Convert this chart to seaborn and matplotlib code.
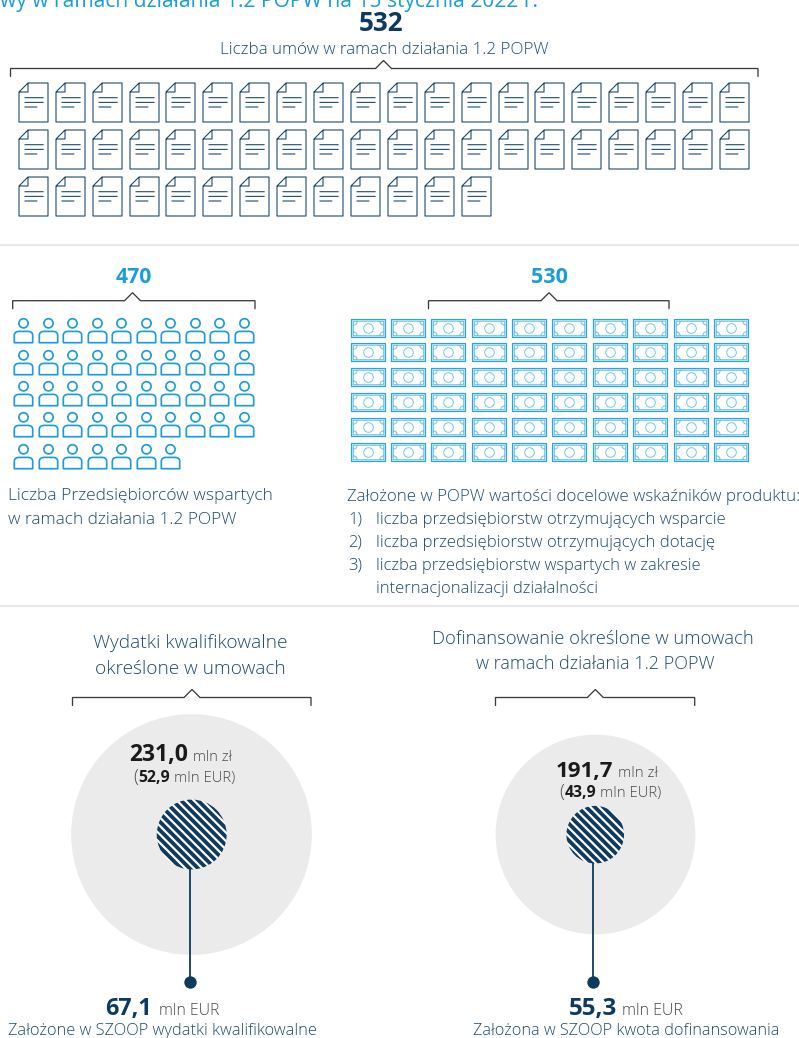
import matplotlib
matplotlib.use("Agg")
import matplotlib.pyplot as plt
import numpy as np
import pandas as pd
import seaborn as sns
from matplotlib.path import Path
from matplotlib.patches import Circle
from matplotlib.markers import MarkerStyle

# ---- data ----
CONTRACTS_TOTAL = 532
ENTERPRISES_TOTAL = 470
TARGET_TOTAL = 530
contract_rows = [20, 20, 13]
enterprise_rows = [10, 10, 10, 10, 7]
target_rows = [10, 10, 10, 10, 10, 10]
eligible_pln = 231.0
eligible_eur = "52,9"
eligible_plan = 67.1
funding_pln = 191.7
funding_eur = "43,9"
funding_plan = 55.3

NAVY = "#0e3a5f"
TXT = "#1f4a6c"
BLUE = "#1c9cd9"
GRAY = "#4a4a4a"
FONT = "Open Sans"

sns.set_theme(style="white")
plt.rcParams["font.family"] = [FONT, "DejaVu Sans"]

W, H = 799, 1038
fig = plt.figure(figsize=(W / 100, H / 100), dpi=100)
ax = fig.add_axes([0, 0, 1, 1])
ax.set_xlim(0, W)
ax.set_ylim(H, 0)
ax.axis("off")
PT = 0.72  # points per pixel


def grid(rows, x0, y0, dx, dy):
    recs = [(x0 + dx * c, y0 + dy * r) for r, n in enumerate(rows) for c in range(n)]
    return pd.DataFrame(recs, columns=["x", "y"])


def icons(df, path, lw, edge, face="white", z=3):
    R = np.abs(path.vertices).max()
    sns.scatterplot(data=df, x="x", y="y", ax=ax, marker=MarkerStyle(path),
                    s=(2 * R * PT) ** 2, color=face, edgecolor=edge,
                    linewidth=lw * PT, legend=False, zorder=z)


def poly(*pts, close=False):
    v = list(pts)
    c = [Path.MOVETO] + [Path.LINETO] * (len(v) - 1)
    if close:
        v.append(v[0])
        c.append(Path.CLOSEPOLY)
    return Path(v, c)


def arc(a, b, ctrl):
    return Path([a, ctrl, b], [Path.MOVETO, Path.CURVE3, Path.CURVE3])


def bracket(x0, x1, apex, y, tick=8, peak=8):
    ax.plot([x0, x0, apex - peak, apex, apex + peak, x1, x1],
            [y + tick, y, y, y - peak, y, y, y + tick],
            color="#3a3a3a", lw=1.3 * PT, solid_joinstyle="miter", zorder=2)


fig.canvas.draw()
rend = fig.canvas.get_renderer()


def put(x0, x1, base, s, color=TXT, weight="light"):
    t = ax.text(x0, base, s, color=color, fontsize=10, fontweight=weight,
                ha="left", va="baseline", zorder=6)
    w = t.get_window_extent(rend).width
    t.set_fontsize(10 * (x1 - x0) / w)
    return t


def num(x0, x1, base, s, color):
    return put(x0, x1, base, s, color, "bold")


# ---- document icon ----
hw, hh = 14.5, 19.5
def P(x, y):
    return (x - hw, hh - y)
doc = Path.make_compound_path(
    poly(P(0, 9), P(9, 0), P(29, 0), P(29, 39), P(0, 39), close=True),
    poly(P(9, 0), P(9, 9), P(0, 9)),
    poly(P(5.5, 14.7), P(24.6, 14.7)),
    poly(P(5.5, 19.4), P(24.6, 19.4)),
    poly(P(5.5, 24), P(18.3, 24)),
)
icons(grid(contract_rows, 32.8, 101.5, 36.9, 47.4), doc, 1.1, "#1d4a70")

# ---- person icon ----
body = Path([(-9.2, -12.2), (-9.2, -5), (-9.2, -1.6), (-6.5, -0.9), (-4.5, -0.9),
             (4.5, -0.9), (6.5, -0.9), (9.2, -1.6), (9.2, -5), (9.2, -12.2), (-9.2, -12.2)],
            [Path.MOVETO, Path.LINETO, Path.CURVE4, Path.CURVE4, Path.CURVE4,
             Path.LINETO, Path.CURVE4, Path.CURVE4, Path.CURVE4, Path.LINETO, Path.CLOSEPOLY])
head = Path.circle((0, 7.2), 4.6)
person = Path.make_compound_path(head, body)
icons(grid(enterprise_rows, 23, 330.2, 24.55, 31.4), person, 1.7, BLUE)

# ---- banknote icon ----
def rect(a, b):
    return poly((-a, -b), (a, -b), (a, b), (-a, b), close=True)
outer = rect(17.4, 9.3)
inner = Path.make_compound_path(
    rect(15.2, 7.2),
    Path.circle((0, 0), 4.8),
    arc((-15.2, 3.4), (-11.4, 7.2), (-11.4, 3.4)),
    arc((15.2, 3.4), (11.4, 7.2), (11.4, 3.4)),
    arc((-15.2, -3.4), (-11.4, -7.2), (-11.4, -3.4)),
    arc((15.2, -3.4), (11.4, -7.2), (11.4, -3.4)),
)
notes = grid(target_rows, 367.7, 327.6, 40.35, 24.8)
icons(notes, outer, 1.2, "#2aa5de", "#cfeaf8", z=3)
icons(notes, inner, 0.9, "#69c1ea", "white", z=4)

# ---- brackets and dividers ----
bracket(10.5, 758, 383.5, 68.5)
bracket(12.7, 255, 132.5, 300.7)
bracket(428.5, 669, 549, 300.7)
bracket(72.5, 311, 192, 697.5)
bracket(495.5, 694.7, 595.3, 697.5)
for yy in (245, 606):
    ax.axhline(yy, color="#e9e9e9", lw=1.6, zorder=1)

# ---- bubbles: radius proportional to value ----
PX_PER_UNIT = 0.521
big = pd.DataFrame({"x": [191.5, 595.5], "y": [834.5, 834.5], "v": [eligible_pln, funding_pln]})
big["s"] = (2 * big["v"] * PX_PER_UNIT * PT) ** 2
sns.scatterplot(data=big, x="x", y="y", ax=ax, s=big["s"].to_numpy(), color="#ebebeb",
                linewidth=0, legend=False, zorder=1)
small = pd.DataFrame({"x": [191.7, 595.2], "y": [834.5, 834.7], "v": [eligible_plan, funding_plan]})
stem_x = [190, 593.3]
stem_end = 981.5
for (_, row), sx in zip(small.iterrows(), stem_x):
    r = row["v"] * PX_PER_UNIT
    disc = Circle((row["x"], row["y"]), r, fc="white", ec="none", zorder=3)
    ax.add_patch(disc)
    period = 6.0
    for off in np.arange(-2 * r, 2 * r, period * np.sqrt(2)):
        ln, = ax.plot([row["x"] - 2 * r + off, row["x"] + 2 * r + off],
                      [row["y"] - 2 * r, row["y"] + 2 * r],
                      color=NAVY, lw=3.8 * PT, zorder=4, solid_capstyle="butt")
        ln.set_clip_path(disc)
    ax.plot([sx, sx], [row["y"] + r - 1, stem_end], color=NAVY, lw=1.8 * PT, zorder=5)
dots = pd.DataFrame({"x": stem_x, "y": [stem_end, stem_end]})
sns.scatterplot(data=dots, x="x", y="y", ax=ax, s=(12.4 * PT) ** 2, color=NAVY,
                linewidth=0, legend=False, zorder=6)

# ---- text ----
put(0, 539, 6.5, "wy w ramach działania 1.2 POPW na 15 stycznia 2022 r.", BLUE, "normal")
num(358.5, 403, 31, str(CONTRACTS_TOTAL), NAVY)
put(219.5, 550, 54, "Liczba umów w ramach działania 1.2 POPW")
num(115.5, 152, 282.7, str(ENTERPRISES_TOTAL), BLUE)
num(530.5, 567.5, 282.7, str(TARGET_TOTAL), BLUE)
put(8, 273, 500, "Liczba Przedsiębiorców wspartych")
put(8, 237, 524, "w ramach działania 1.2 POPW")
put(347, 798, 501, "Założone w POPW wartości docelowe wskaźników produktu:")
put(348, 362, 524, "1)")
put(376, 723, 524, "liczba przedsiębiorstw otrzymujących wsparcie")
put(348, 362, 546.7, "2)")
put(376, 712, 546.7, "liczba przedsiębiorstw otrzymujących dotację")
put(348, 362, 570, "3)")
put(376, 700, 570, "liczba przedsiębiorstw wspartych w zakresie")
put(376, 597, 592.7, "internacjonalizacji działalności")
put(93, 287, 648, "Wydatki kwalifikowalne")
put(95, 285, 674, "określone w umowach")
put(432, 753, 644, "Dofinansowanie określone w umowach")
put(476, 715, 669, "w ramach działania 1.2 POPW")

BLK = "#1a1a1a"
num(129, 187.7, 760.7, f"{eligible_pln:.1f}".replace(".", ","), BLK)
put(192.7, 232, 760.7, "mln zł", GRAY)
put(133.7, 138.5, 782, "(", GRAY)
num(138.5, 170, 782, eligible_eur, BLK)
put(174, 235, 782, "mln EUR)", GRAY)
num(105, 151.7, 1015, f"{eligible_plan:.1f}".replace(".", ","), NAVY)
put(158.7, 219, 1015, "mln EUR", GRAY)
put(8, 316, 1035, "Założone w SZOOP wydatki kwalifikowalne")

num(555.7, 613, 776.7, f"{funding_pln:.1f}".replace(".", ","), BLK)
put(618, 658, 776.7, "mln zł", GRAY)
put(559.7, 564.5, 797, "(", GRAY)
num(564.5, 596, 797, funding_eur, BLK)
put(600, 661, 797, "mln EUR)", GRAY)
num(569, 617, 1015, f"{funding_plan:.1f}".replace(".", ","), NAVY)
put(622, 683, 1015, "mln EUR", GRAY)
put(473, 778, 1035, "Założona w SZOOP kwota dofinansowania")

fig.savefig("out.png", dpi=100)
